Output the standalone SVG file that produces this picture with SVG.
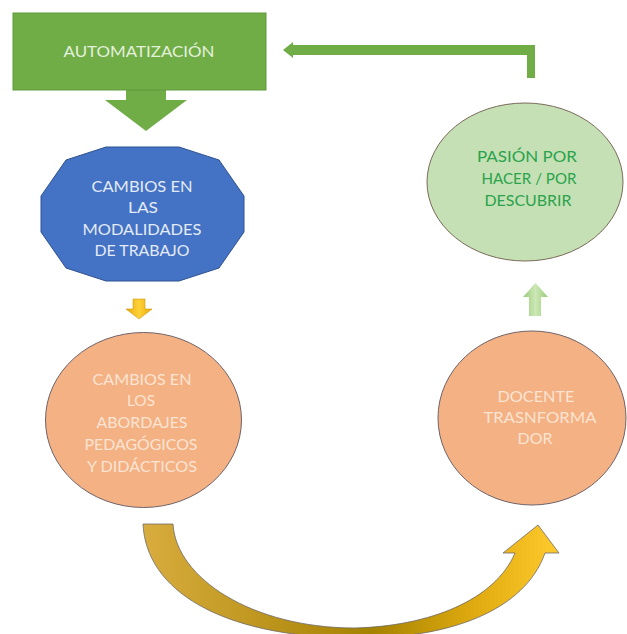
<svg xmlns="http://www.w3.org/2000/svg" width="627" height="634" viewBox="0 0 627 634">
<style>
.t{font-family:Lato,"Open Sans","Liberation Sans",sans-serif;font-size:15px;text-anchor:middle}
.tw{fill:#e4f0dc}
.tb{fill:#e3ebf7}
.to{fill:#fbe4d3}
.tg{fill:#2aa34c}
.orange{fill:#f4b183;stroke:#6f6368;stroke-width:1}
</style>
<defs>
<linearGradient id="gold" x1="0" y1="0" x2="1" y2="0">
<stop offset="0" stop-color="#d8ac3e"/>
<stop offset="0.4" stop-color="#b38d12"/>
<stop offset="0.55" stop-color="#a58200"/>
<stop offset="0.8" stop-color="#e0ab10"/>
<stop offset="1" stop-color="#ffca2c"/>
</linearGradient>
<linearGradient id="ysmall" x1="0" y1="0" x2="1" y2="0">
<stop offset="0" stop-color="#e9a800"/>
<stop offset="0.5" stop-color="#ffd23a"/>
<stop offset="1" stop-color="#e9a800"/>
</linearGradient>
<linearGradient id="gsmall" x1="0" y1="0" x2="1" y2="0">
<stop offset="0" stop-color="#98cb78"/>
<stop offset="0.5" stop-color="#cde8b6"/>
<stop offset="1" stop-color="#98cb78"/>
</linearGradient>
</defs>
<rect width="627" height="634" fill="#ffffff"/>

<g id="connectors">
<path id="arrow-auto-down" d="M126,90 H166 V100 H187 L146,131 L105,100 H126 Z" fill="#70ad47"/>
<path id="arrow-top-elbow" d="M535,78 H527 V55 H293 V58 L283,50 L293,42 V45 H535 Z" fill="#70ad47"/>
<path id="arrow-small-yellow" d="M133,299 H145 V309 H152 L139,319 L126,309 H133 Z" fill="url(#ysmall)" stroke="#c99a10" stroke-width="0.6"/>
<path id="arrow-small-green" d="M529,316 V297 H523 L535.5,283 L548,297 H541 V316 Z" fill="url(#gsmall)"/>
<path id="arrow-curved" d="M143,524 C146,590 220,636 350,638 C450,640 525,610 545,553 H559 L538,525 L503,553 H515 C495,600 430,626 355,628 C252,628 176,578 173,524 Z" fill="url(#gold)" stroke="#6e6a6a" stroke-width="0.8"/>
</g>

<g id="node-automatizacion">
<rect x="13" y="13" width="253" height="77" fill="#70ad47" stroke="#5e9a3a" stroke-width="1"/>
<text class="t tw" x="139" y="57" textLength="151" lengthAdjust="spacingAndGlyphs">AUTOMATIZACIÓN</text>
</g>

<g id="node-cambios-modalidades">
<polygon points="244,196 219,160 179,147 106,147 66,160 41,196 41,232 66,268 106,281 179,281 219,268 244,232" fill="#4472c4" stroke="#2f528f" stroke-width="1"/>
<text class="t tb" x="142" y="192" textLength="101" lengthAdjust="spacingAndGlyphs">CAMBIOS EN</text>
<text class="t tb" x="143" y="213" textLength="30" lengthAdjust="spacingAndGlyphs">LAS</text>
<text class="t tb" x="142" y="235" textLength="119" lengthAdjust="spacingAndGlyphs">MODALIDADES</text>
<text class="t tb" x="142" y="256" textLength="95" lengthAdjust="spacingAndGlyphs">DE TRABAJO</text>
</g>

<g id="node-cambios-abordajes">
<ellipse class="orange" cx="143.5" cy="420" rx="98" ry="87.5"/>
<text class="t to" x="142" y="385" textLength="99" lengthAdjust="spacingAndGlyphs">CAMBIOS EN</text>
<text class="t to" x="141" y="406" textLength="28" lengthAdjust="spacingAndGlyphs">LOS</text>
<text class="t to" x="142" y="428" textLength="91" lengthAdjust="spacingAndGlyphs">ABORDAJES</text>
<text class="t to" x="141" y="450" textLength="113" lengthAdjust="spacingAndGlyphs">PEDAGÓGICOS</text>
<text class="t to" x="142" y="472" textLength="110" lengthAdjust="spacingAndGlyphs">Y DIDÁCTICOS</text>
</g>

<g id="node-docente">
<ellipse class="orange" cx="532" cy="418" rx="94" ry="87"/>
<text class="t to" x="536" y="402" textLength="77" lengthAdjust="spacingAndGlyphs">DOCENTE</text>
<text class="t to" x="540" y="423" textLength="113" lengthAdjust="spacingAndGlyphs">TRASNFORMA</text>
<text class="t to" x="535" y="444" textLength="35" lengthAdjust="spacingAndGlyphs">DOR</text>
</g>

<g id="node-pasion">
<ellipse cx="525" cy="182" rx="98" ry="79" fill="#c5e0b4" stroke="#7a6a5a" stroke-width="1"/>
<text class="t tg" x="527" y="162" textLength="100" lengthAdjust="spacingAndGlyphs">PASIÓN POR</text>
<text class="t tg" x="529" y="184" textLength="95" lengthAdjust="spacingAndGlyphs">HACER / POR</text>
<text class="t tg" x="528" y="206" textLength="87" lengthAdjust="spacingAndGlyphs">DESCUBRIR</text>
</g>
</svg>
